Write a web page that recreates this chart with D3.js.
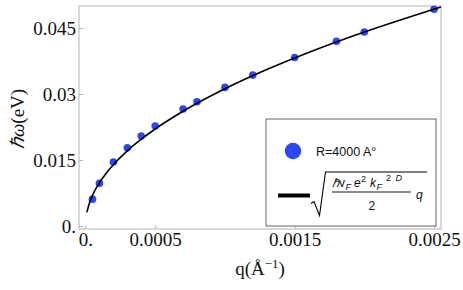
<!DOCTYPE html>
<html><head><meta charset="utf-8">
<script src="https://cdn.jsdelivr.net/npm/d3@7"></script>
<style>body{margin:0;background:#fff}svg{display:block}</style>
</head><body>
<script>
// data
const qData = [0.00005,0.0001,0.0002,0.0003,0.0004,0.0005,0.0007,0.0008,0.001,0.0012,0.0015,0.0018,0.002,0.0025];
const omegaData = [0.0061,0.0097,0.01455,0.0178,0.02045,0.0227,0.0266,0.02825,0.0315,0.0343,0.0383,0.042,0.0441,0.04925];
const curveQ = [0.00001,0.00003,0.00006,0.0001,0.00015,0.0002,0.0003,0.0004,0.0005,0.0007,0.001,0.0013,0.0016,0.002,0.00255];
const curveOmega = [0.00312,0.0054,0.00764,0.00986,0.01207,0.01394,0.01708,0.01972,0.02205,0.02608,0.03118,0.03555,0.03944,0.04409,0.04979];
const xTicks = [0,0.0005,0.0015,0.0025];
const xTickLabels = ["0.","0.0005","0.0015","0.0025"];
const yTicks = [0,0.015,0.03,0.045];
const yTickLabels = ["0.","0.015","0.03","0.045"];

const W=463,H=290;
const L=79,R=441,T=6,B=229;
const svg=d3.select("body").append("svg").attr("width",W).attr("height",H);
const x=d3.scaleLinear().domain([-0.0000466,0.00255]).range([L,R]);
const y=d3.scaleLinear().domain([-0.00068,0.05]).range([B,T]);
const serif="'Liberation Serif','Times New Roman',serif";
const sans="'Liberation Sans',Arial,sans-serif";
const frameCol="#b4b4b4";

// frame
svg.append("rect").attr("x",L).attr("y",T).attr("width",R-L).attr("height",B-T)
  .attr("fill","none").attr("stroke",frameCol).attr("stroke-width",1);

// axes (ticks inward)
const xAxis=d3.axisBottom(x).tickValues(xTicks).tickFormat((d,i)=>xTickLabels[i]).tickSizeInner(-4).tickSizeOuter(0).tickPadding(8);
const gx=svg.append("g").attr("transform",`translate(0,${B})`).call(xAxis);
gx.select(".domain").remove();
gx.selectAll("line").attr("stroke",frameCol);
gx.selectAll("text").attr("font-family",serif).attr("font-size",19).attr("fill","#111").attr("dy","0.71em").attr("y",4);

const yAxis=d3.axisLeft(y).tickValues(yTicks).tickFormat((d,i)=>yTickLabels[i]).tickSizeInner(-4).tickSizeOuter(0).tickPadding(3);
const gy=svg.append("g").attr("transform",`translate(${L},0)`).call(yAxis);
gy.select(".domain").remove();
gy.selectAll("line").attr("stroke",frameCol);
gy.selectAll("text").attr("font-family",serif).attr("font-size",19).attr("fill","#111").attr("dy","0.33em");

// axis labels
const xl=svg.append("text").attr("x",260).attr("y",275).attr("text-anchor","middle")
  .attr("font-family",serif).attr("font-size",19).attr("fill","#111");
xl.append("tspan").text("q(Å");
xl.append("tspan").attr("font-size",13).attr("dy",-7).text("−1");
xl.append("tspan").attr("dy",7).text(")");

const yl=svg.append("text").attr("transform","translate(24,119) rotate(-90)").attr("text-anchor","middle")
  .attr("font-family",serif).attr("font-size",19).attr("fill","#111");
yl.append("tspan").attr("font-style","italic").text("ℏω");
yl.append("tspan").text("(eV)");

// points
const blue="#2b48f3";
const pts=qData.map((q,i)=>[q,omegaData[i]]);
svg.append("g").selectAll("circle").data(pts).join("circle")
  .attr("cx",d=>x(d[0])).attr("cy",d=>y(d[1])).attr("r",3.8).attr("fill",blue);

// curve
const cpts=curveQ.map((q,i)=>[q,curveOmega[i]]);
svg.append("path").datum(cpts).attr("fill","none").attr("stroke","#000").attr("stroke-width",1.6)
  .attr("d",d3.line().x(d=>x(d[0])).y(d=>y(d[1])).curve(d3.curveMonotoneX));

// legend
const lg=svg.append("g");
lg.append("rect").attr("x",266).attr("y",119).attr("width",170).attr("height",107)
  .attr("fill","#fff").attr("stroke","#666").attr("stroke-width",1);
lg.append("circle").attr("cx",293).attr("cy",151).attr("r",8.2).attr("fill",blue);
lg.append("text").attr("x",316).attr("y",155.5).attr("font-family",sans).attr("font-size",12.5).attr("fill","#111").text("R=4000 A°");
lg.append("line").attr("x1",278).attr("x2",310).attr("y1",195.5).attr("y2",195.5).attr("stroke","#000").attr("stroke-width",4);
// radical
lg.append("path").attr("d","M311,203.5 L314,201.5 L319.5,215.5 L325.5,172 L427,172")
  .attr("fill","none").attr("stroke","#000").attr("stroke-width",1.1);
const fs=12, ss=9, nb=186.5;
const piece=(px,py,t,size,it)=>lg.append("text").attr("x",px).attr("y",py).attr("font-family",sans)
  .attr("font-size",size).attr("font-style",it?"italic":"normal").attr("fill","#111").text(t);
piece(332,nb,"ℏ",fs,true);
piece(339,nb,"v",fs,false);
piece(345.5,nb+3,"F",ss,true);
piece(354,nb,"e",fs,true);
piece(361,nb-5,"2",ss,false);
piece(370,nb,"k",fs,true);
piece(376.5,nb+3,"F",ss,true);
piece(386,nb-5.5,"2",ss,false);
piece(395.5,nb-5.5,"D",ss,true);
lg.append("line").attr("x1",332).attr("x2",411).attr("y1",192).attr("y2",192).attr("stroke","#000").attr("stroke-width",0.9);
piece(368.5,210,"2",fs,false);
piece(416,198.5,"q",fs,true);
</script>
</body></html>
